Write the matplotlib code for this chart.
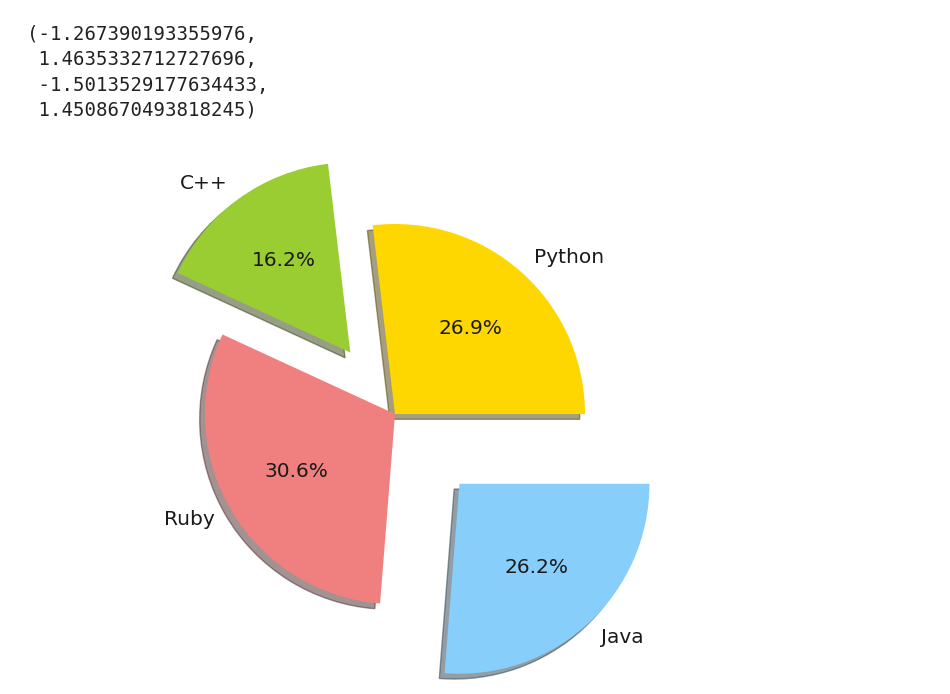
import matplotlib
matplotlib.use("Agg")
import matplotlib.pyplot as plt

# data
labels = ["Python", "C++", "Ruby", "Java"]
sizes = [215, 130, 245, 210]
colors = ["gold", "yellowgreen", "lightcoral", "lightskyblue"]
explode = [0, 0.4, 0, 0.5]
axis_limits = (-1.267390193355976, 1.4635332712727696,
               -1.5013529177634433, 1.4508670493818245)

W, H = 950, 694
fig = plt.figure(figsize=(W / 100, H / 100), dpi=100, facecolor="white")

# notebook-style output of plt.axis('equal')
out_text = "(" + ",\n ".join(repr(v) for v in axis_limits) + ")"
fig.text(27 / W, 1 - 25 / H, out_text, family="DejaVu Sans Mono", fontsize=13.7,
         color="#222222", va="top", ha="left", linespacing=1.42)

# axes placed so that 1 data unit ~ 190 px, pie centre at (395, 414)
scale = 190.0
cx, cy = 395.0, 414.0
x0, x1, y0, y1 = axis_limits
left = cx + x0 * scale
width = (x1 - x0) * scale
top = cy - y1 * scale
height = (y1 - y0) * scale
ax = fig.add_axes([left / W, 1 - (top + height) / H, width / W, height / H])

ax.pie(sizes, explode=explode, labels=labels, colors=colors,
       autopct="%1.1f%%", shadow=True, startangle=0,
       textprops={"fontsize": 14.5, "color": "#1a1a1a"})
ax.set_xlim(x0, x1)
ax.set_ylim(y0, y1)
ax.set_aspect("auto")
ax.axis("off")

fig.savefig("out.png", dpi=100, facecolor="white")
